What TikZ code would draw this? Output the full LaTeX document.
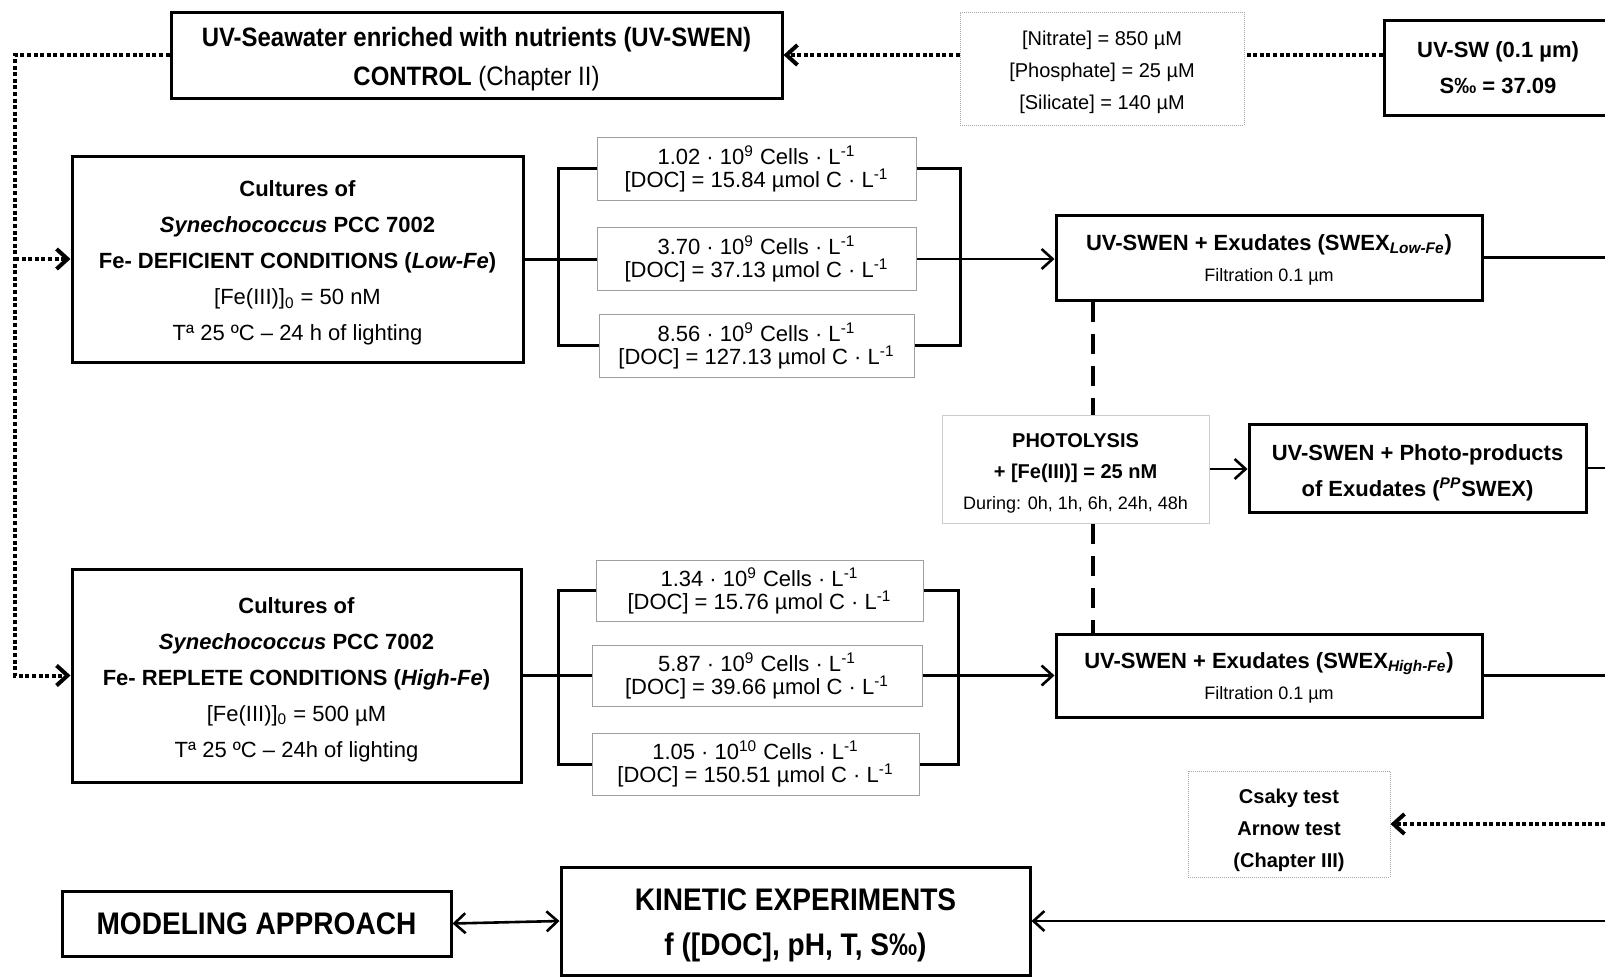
\documentclass[tikz,border=0pt]{standalone}
\usepackage{fontspec}
\setmainfont{Liberation Sans}
\newfontfamily\narrowsans[FakeStretch=0.9]{Liberation Sans}
\usetikzlibrary{arrows.meta}
\newcommand{\topstrut}[1]{\rule{0pt}{#1}}

\begin{document}
\begin{tikzpicture}[x=0.5pt, y=-0.5pt,
  >={Straight Barb[length=5.5pt,width=10pt]},
  mainbox/.style={draw=black, line width=1.5pt, inner sep=0pt, align=center},
  cellbox/.style={draw=gray!75, line width=0.5pt, inner sep=0pt, align=center, font=\fontsize{11}{11.5}\selectfont},
  notebox/.style={draw=gray!70, line width=0.5pt, dash pattern=on 0.5pt off 0.5pt, inner sep=0pt, align=center},
  bracketline/.style={line width=1.5pt},
  flow/.style={line width=1.3pt, ->},
  feed/.style={line width=2pt, dash pattern=on 2pt off 1.3pt},
  photolink/.style={line width=2pt, dash pattern=on 10pt off 6pt}]

  \useasboundingbox (0,0) rectangle (1605,976);
  \clip (0,0) rectangle (1605,976);

  % Seawater and nutrients (top row)
  \node[mainbox, minimum width=305.5pt, minimum height=43pt, font=\narrowsans\fontsize{13.3}{19.5}\selectfont] (swen) at (476.5,55)
    {\topstrut{13.7pt}\textbf{UV-Seawater enriched with nutrients (UV-SWEN)}\\\textbf{CONTROL} (Chapter II)};
  \node[notebox, minimum width=142pt, minimum height=56.5pt, font=\fontsize{10}{16}\selectfont] (nutr) at (1102,68.5)
    {\topstrut{11.3pt}{[}Nitrate] = 850 µM\\{[}Phosphate] = 25 µM\\{[}Silicate] = 140 µM};
  \node[mainbox, minimum width=114pt, minimum height=47.5pt, font=\bfseries\fontsize{11}{18}\selectfont] (uvsw) at (1498,67.5)
    {UV-SW (0.1 µm)\\S‰ = 37.09};

  % Synechococcus cultures
  \node[mainbox, minimum width=225.5pt, minimum height=103pt, font=\fontsize{11}{18}\selectfont] (lowcult) at (297.5,259)
    {\topstrut{12pt}\textbf{Cultures of}\\\textbf{\textit{Synechococcus} PCC 7002}\\\textbf{Fe- DEFICIENT CONDITIONS (\textit{Low-Fe})}\\{[}Fe(III)]\textsubscript{0} = 50 nM\\Tª 25 ºC – 24 h of lighting};
  \node[mainbox, minimum width=224.5pt, minimum height=106.5pt, font=\fontsize{11}{18}\selectfont] (highcult) at (296.5,675.5)
    {\topstrut{12pt}\textbf{Cultures  of}\\\textbf{\textit{Synechococcus} PCC 7002}\\\textbf{Fe- REPLETE CONDITIONS (\textit{High-Fe})}\\{[}Fe(III)]\textsubscript{0} = 500 µM\\Tª 25 ºC – 24h of lighting};

  % Cell densities and DOC of each culture
  \foreach \nm/\cx/\cy/\w/\h/\num/\doc in {
      lowA/756.5/168.5/159.5/31.5/{1.02 · 10\textsuperscript{9}}/15.84,
      lowB/756.5/259/159.5/31.5/{3.70 · 10\textsuperscript{9}}/37.13,
      lowC/756.5/345.5/157.5/31.5/{8.56 · 10\textsuperscript{9}}/127.13,
      highA/759.5/590.5/163.5/30.5/{1.34 · 10\textsuperscript{9}}/15.76,
      highB/757/675.5/165/30.5/{5.87 · 10\textsuperscript{9}}/39.66,
      highC/755.5/764/163.5/31/{1.05 · 10\textsuperscript{10}}/150.51} {
    \node[cellbox, minimum width=\w pt, minimum height=\h pt] (\nm) at (\cx,\cy)
      {\num\ Cells · L\textsuperscript{-1}\\{[}DOC] = \doc\ µmol C · L\textsuperscript{-1}};
  }

  % Exudate media and photolysis
  \node[mainbox, minimum width=213pt, minimum height=42.5pt, font=\fontsize{11}{15.5}\selectfont] (swexlow) at (1269,257.5)
    {\topstrut{10pt}\textbf{UV-SWEN + Exudates (SWEX\textsubscript{\textit{Low-Fe}})}\\{\fontsize{9}{15.5}\selectfont Filtration 0.1 µm}};
  \node[draw=gray!40, line width=0.5pt, inner sep=0pt, align=center, minimum width=133.5pt, minimum height=54pt, font=\fontsize{10}{15.5}\selectfont] (photo) at (1075.5,469)
    {\topstrut{11.2pt}\textbf{PHOTOLYSIS}\\\textbf{+ [Fe(III)] = 25 nM}\\{\fontsize{9}{15.5}\selectfont During: 0h, 1h, 6h, 24h, 48h}};
  \node[mainbox, minimum width=168.5pt, minimum height=44pt, font=\bfseries\fontsize{11}{18}\selectfont] (pp) at (1417.5,468)
    {\topstrut{13pt}UV-SWEN + Photo-products\\of Exudates (\textsuperscript{\textit{PP}}SWEX)};
  \node[mainbox, minimum width=213pt, minimum height=41.5pt, font=\fontsize{11}{15.5}\selectfont] (swexhigh) at (1269,675.5)
    {\topstrut{10pt}\textbf{UV-SWEN + Exudates (SWEX\textsubscript{\textit{High-Fe}})}\\{\fontsize{9}{15.5}\selectfont Filtration 0.1 µm}};
  \node[notebox, minimum width=101pt, minimum height=53pt, font=\bfseries\fontsize{10}{16}\selectfont] (csaky) at (1289,824)
    {\topstrut{13.3pt}Csaky test\\Arnow test\\(Chapter III)};

  % Kinetics and modeling (bottom row)
  \node[mainbox, minimum width=194.5pt, minimum height=32.5pt, font=\narrowsans\bfseries\fontsize{15.6}{22.5}\selectfont] (model) at (256.5,923.5)
    {MODELING APPROACH};
  \node[mainbox, minimum width=234.5pt, minimum height=54pt, font=\narrowsans\bfseries\fontsize{15.6}{22.5}\selectfont] (kinetic) at (795.5,921)
    {\topstrut{15.2pt}KINETIC EXPERIMENTS\\f ([DOC], pH, T, S‰)};

  \coordinate (bus) at (15,0);
  \coordinate (lowL) at (558,0);
  \coordinate (lowR) at (960,0);
  \coordinate (highL) at (558,0);
  \coordinate (highR) at (958,0);
  \coordinate (dashx) at (1093,0);
  \coordinate (edge) at (1612,0);

  % Dotted supply lines
  \draw[feed] (uvsw.west |- swen.east) -- (nutr.east |- swen.east);
  \draw[feed, ->] (nutr.west |- swen.east) -- (swen.east);
  \draw[feed, ->] (swen.west) -| (bus |- highcult.west) -- (highcult.west);
  \draw[feed, ->] (bus |- lowcult.west) -- (lowcult.west);

  % Brackets around the culture samples
  \draw[bracketline] (lowA.west) -- (lowA.west -| lowL) -- (lowC.west -| lowL) -- (lowC.west);
  \draw[bracketline] (lowA.east) -- (lowA.east -| lowR) -- (lowC.east -| lowR) -- (lowC.east);
  \draw[bracketline] (lowcult.east) -- (lowcult.east -| lowB.west);
  \draw[bracketline] (highA.west) -- (highA.west -| highL) -- (highC.west -| highL) -- (highC.west);
  \draw[bracketline] (highA.east) -- (highA.east -| highR) -- (highC.east -| highR) -- (highC.east);
  \draw[bracketline] (highcult.east) -- (highcult.east -| highB.west);
  \draw[flow] (lowB.east) -- (lowB.east -| swexlow.west);
  \draw[flow] (highB.east) -- (highB.east -| swexhigh.west);

  % Photolysis link
  \draw[photolink] (swexlow.south -| dashx) -- (photo.north -| dashx);
  \draw[photolink] (photo.south -| dashx) -- (swexhigh.north -| dashx);
  \draw[flow] (photo.east) -- (photo.east -| pp.west);

  % Lines leaving at the right
  \foreach \src in {swexlow, pp, swexhigh}
    \draw[line width=1.3pt] (\src.east) -- (\src.east -| edge);
  \draw[feed, ->] (csaky.east -| edge) -- (csaky.east);
  \draw[flow] (kinetic.east -| edge) -- (kinetic.east);
  \draw[line width=1.3pt, <->] (model.east) -- (kinetic.west);

\end{tikzpicture}
\end{document}
